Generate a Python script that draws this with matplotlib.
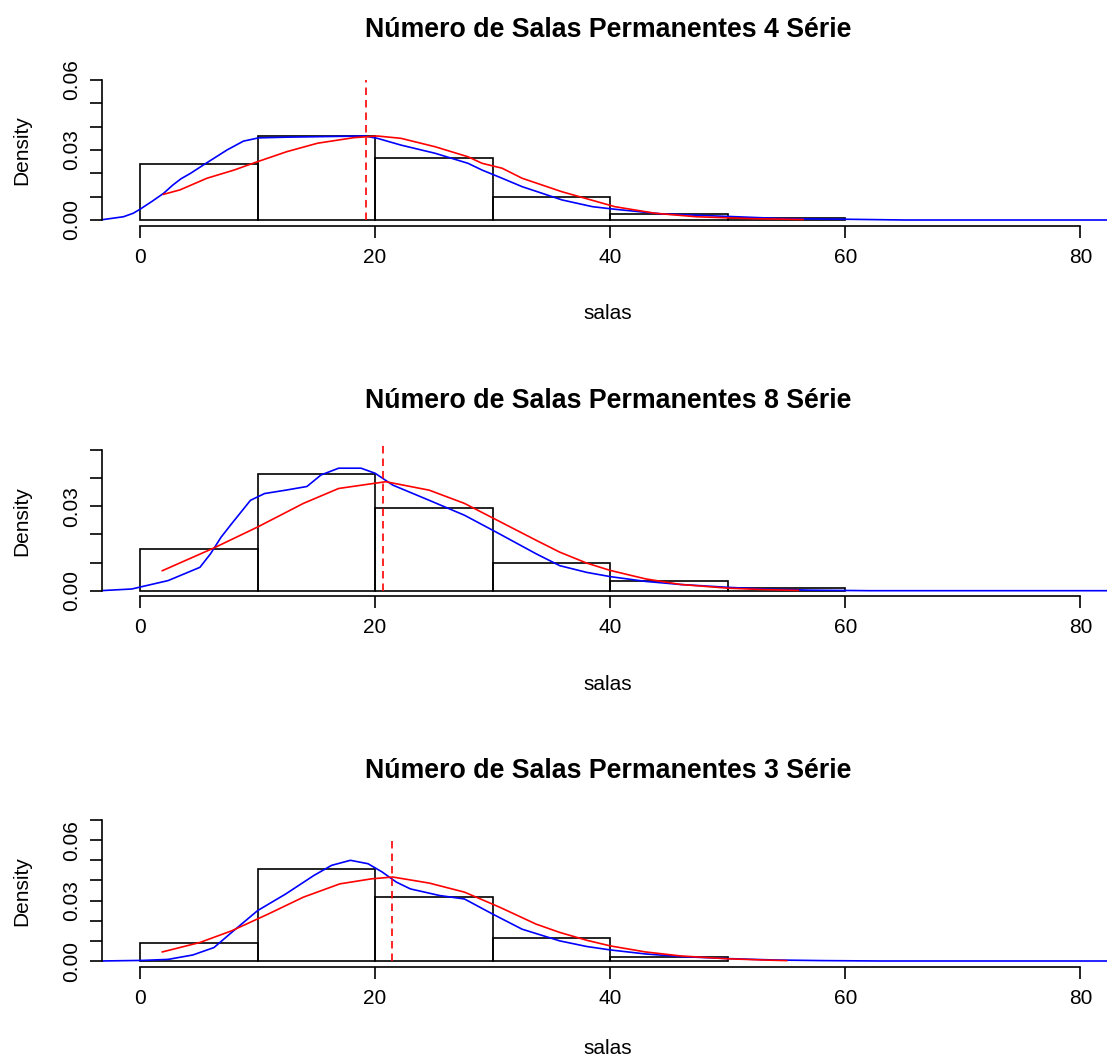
import matplotlib
matplotlib.use("Agg")
import matplotlib.pyplot as plt

plt.rcParams['font.family'] = ['Liberation Sans', 'DejaVu Sans']

titles = ["Número de Salas Permanentes 4 Série",
          "Número de Salas Permanentes 8 Série",
          "Número de Salas Permanentes 3 Série"]

# histogram densities (bins of width 10)
edges_4 = [0, 10, 20, 30, 40, 50, 60]
hist_4 = [0.0239, 0.0360, 0.0267, 0.0097, 0.0026, 0.0009]
edges_8 = [0, 10, 20, 30, 40, 50, 60]
hist_8 = [0.0149, 0.0414, 0.0294, 0.0099, 0.0033, 0.0011]
edges_3 = [0, 10, 20, 30, 40, 50]
hist_3 = [0.0088, 0.0458, 0.0320, 0.0112, 0.0022]

# kernel density (blue)
kde_x_4 = [-3.4, -1.4, -0.57, 0, 1.0, 2.0, 2.8, 3.5, 4.3, 5.4, 7.4, 8.8, 10.1, 12.5, 15.1, 19.1, 20.2, 22.2,
           25.1, 27.9, 29.1, 30.8, 32.5, 35.9, 38.5, 40.4, 44.4, 50.7, 54.7, 60.4, 65, 90]
kde_y_4 = [0, 0.0014, 0.0029, 0.0046, 0.0079, 0.0114, 0.0150, 0.0177, 0.0200, 0.0236, 0.0300, 0.0338, 0.0352,
           0.0355, 0.0357, 0.0360, 0.0350, 0.0321, 0.0286, 0.0243, 0.0214, 0.0179, 0.0143, 0.0086, 0.0057,
           0.0046, 0.0026, 0.0014, 0.0006, 0.0003, 0, 0]
kde_x_8 = [-3.4, -0.7, 2.4, 5.1, 6.0, 6.9, 7.8, 9.4, 10.6, 12.4, 14.2, 15.4, 16.9, 18.8, 20.0, 21.5, 24.6,
           27.6, 30.3, 33.7, 35.7, 38, 40, 43, 46, 50, 53, 57, 62, 90]
kde_y_8 = [0, 0.0006, 0.0036, 0.0083, 0.0131, 0.0190, 0.0238, 0.0321, 0.0345, 0.0357, 0.0370, 0.0411,
           0.0435, 0.0435, 0.0417, 0.0375, 0.0321, 0.0268, 0.0208, 0.0131, 0.0089, 0.0065, 0.0050, 0.0033,
           0.0022, 0.0012, 0.0006, 0.0002, 0, 0]
kde_x_3 = [-3.4, 0.25, 2.4, 4.5, 6.3, 7.8, 10.0, 12.4, 14.8, 16.3, 17.9, 19.4, 20.6, 21.8, 23.0, 25.5, 27.6,
           30.0, 32.5, 35.7, 38, 40, 43, 46, 50, 54, 58, 63, 90]
kde_y_3 = [0, 0.0003, 0.0008, 0.0030, 0.0067, 0.0142, 0.0250, 0.0333, 0.0425, 0.0475, 0.0500, 0.0483,
           0.0442, 0.0392, 0.0358, 0.0325, 0.0308, 0.0233, 0.0158, 0.0100, 0.0072, 0.0055, 0.0035, 0.0022,
           0.0012, 0.0005, 0.0002, 0, 0]

# smoother curve (red)
fit_x_4 = [2.0, 3.4, 5.7, 8.0, 10.0, 12.5, 15.1, 18.2, 20.2, 22.2, 25.1, 27.9, 29.1, 30.8, 32.5, 35.9,
           40.4, 43.8, 47.3, 51.9, 56.4]
fit_y_4 = [0.0110, 0.0129, 0.0179, 0.0214, 0.0250, 0.0293, 0.0329, 0.0353, 0.0360, 0.0350, 0.0314, 0.0271,
           0.0243, 0.0222, 0.0179, 0.0121, 0.0057, 0.0029, 0.0014, 0.0006, 0.0002]
fit_x_8 = [1.9, 6.3, 10.0, 13.9, 16.9, 20.9, 24.6, 27.6, 30.3, 33.7, 35.7, 38, 40, 43, 46, 50, 53, 56]
fit_y_8 = [0.0071, 0.0152, 0.0226, 0.0310, 0.0363, 0.0387, 0.0357, 0.0310, 0.0252, 0.0179, 0.0137, 0.0098,
           0.0072, 0.0042, 0.0022, 0.0009, 0.0004, 0.0001]
fit_x_3 = [1.9, 5.1, 7.8, 10.9, 13.9, 17.0, 19.7, 21.5, 24.6, 27.6, 30.6, 33.7, 35.7, 38, 40, 43, 46, 50,
           53, 55]
fit_y_3 = [0.0045, 0.0092, 0.0150, 0.0233, 0.0317, 0.0383, 0.0408, 0.0417, 0.0387, 0.0342, 0.0267, 0.0183,
           0.0142, 0.0103, 0.0075, 0.0045, 0.0025, 0.0011, 0.0005, 0.0002]

means = [19.2, 20.7, 21.4]

yticks = [[0, 0.01, 0.02, 0.03, 0.04, 0.05, 0.06],
          [0, 0.01, 0.02, 0.03, 0.04, 0.05],
          [0, 0.01, 0.02, 0.03, 0.04, 0.05, 0.06, 0.07]]
ylabels = [["0.00", "", "", "0.03", "", "", "0.06"],
           ["0.00", "", "", "0.03", "", ""],
           ["0.00", "", "", "0.03", "", "", "0.06", ""]]
ylims = [(-0.0024, 0.0624), (-0.00199, 0.0517), (-0.00278, 0.0723)]
xticks = [0, 20, 40, 60, 80]

panels = [(edges_4, hist_4, kde_x_4, kde_y_4, fit_x_4, fit_y_4),
          (edges_8, hist_8, kde_x_8, kde_y_8, fit_x_8, fit_y_8),
          (edges_3, hist_3, kde_x_3, kde_y_3, fit_x_3, fit_y_3)]

fig = plt.figure(figsize=(11.07, 10.59), dpi=100)
W, H = 1107.0, 1059.0
bottoms_px = [225.6, 596.3, 966.6]
xlab_px = [93.4, 93.4, 87.0]   # distance of "salas" baseline below each panel

for i, (edges, hist, kx, ky, fx, fy) in enumerate(panels):
    ax = fig.add_axes([102 / W, 1 - bottoms_px[i] / H, 1012 / W, 151.2 / H])
    ax.bar(edges[:-1], hist, width=10, align='edge', fill=False, edgecolor='black', linewidth=1.2)
    ax.plot(kx, ky, color='blue', lw=1.2)
    ax.plot(fx, fy, color='red', lw=1.2)
    ax.plot([means[i], means[i]], [0, 0.06], color='red', lw=1.2, linestyle=(0, (4.5, 3)))

    ax.set_xlim(-3.23, 82.85)
    ax.set_ylim(*ylims[i])
    for s in ['top', 'right']:
        ax.spines[s].set_visible(False)
    for s in ['left', 'bottom']:
        ax.spines[s].set_linewidth(1.2)
    ax.spines['left'].set_bounds(0, yticks[i][-1])
    ax.spines['bottom'].set_bounds(0, 80)
    ax.set_xticks(xticks)
    ax.set_xticklabels([str(t) for t in xticks])
    ax.set_yticks(yticks[i])
    ax.set_yticklabels(ylabels[i], rotation=90, va='center')
    ax.tick_params(axis='both', length=8.6, width=1.2, labelsize=15)
    ax.tick_params(axis='x', pad=7.3)
    ax.tick_params(axis='y', pad=6.5)

    ax.annotate(titles[i], xy=(0.5, 1), xycoords='axes fraction', xytext=(0, 27),
                textcoords='offset points', ha='center', va='baseline',
                fontsize=19.3, fontweight='bold')
    ax.text(-80 / 1012, 0.5, "Density", transform=ax.transAxes, rotation=90,
            ha='center', va='center', fontsize=15)
    ax.text(0.5, -xlab_px[i] / 151.2, "salas", transform=ax.transAxes,
            ha='center', va='baseline', fontsize=15)

fig.savefig("out.png", dpi=100)
